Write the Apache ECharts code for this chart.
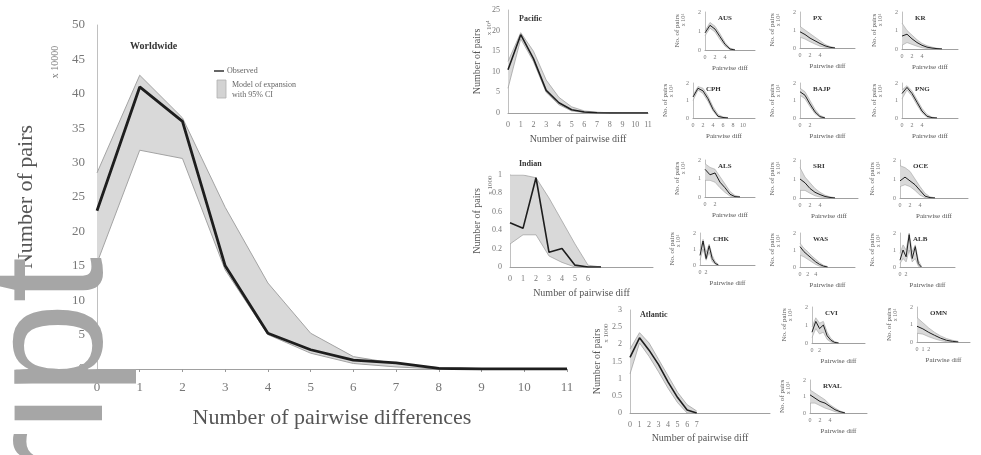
<!DOCTYPE html>
<html>
<head>
<meta charset="utf-8">
<script src="https://cdn.jsdelivr.net/npm/echarts@6/dist/echarts.min.js"></script>
<style>
  html, body { margin: 0; padding: 0; background: #fff; }
  #chart { width: 981px; height: 455px; }
</style>
</head>
<body>
<div id="chart"></div>
<script>
// number of pairwise differences for the big panel
const worldTicks = [0, 1, 2, 3, 4, 5, 6, 7, 8, 9, 10, 11];
// Worldwide (x 10000 pairs)
const worldObs = [23, 41, 36, 15, 5.2, 2.8, 1.3, 0.9, 0.1, 0, 0, 0];
const worldHi = [28.5, 42.7, 36.5, 23.5, 12.5, 5.2, 1.8, 0.8, 0.2, 0.05, 0, 0];
const worldLo = [15.4, 31.8, 30.6, 14.4, 5.0, 2.3, 0.8, 0.3, 0, 0, 0, 0];

// ocean basins
const pacObs = [10.5, 19, 13.2, 5.5, 2.5, 0.8, 0.25, 0.05, 0, 0, 0, 0];
const pacHi = [12.5, 19.5, 15, 8, 3.8, 1.5, 0.5, 0.2, 0.05, 0, 0, 0];
const pacLo = [6, 18, 12.5, 5, 2, 0.5, 0.1, 0, 0, 0, 0, 0];

const indObs = [0.48, 0.42, 0.97, 0.16, 0.2, 0.02, 0, 0];
const indHi = [1.0, 1.0, 0.97, 0.75, 0.5, 0.25, 0.02, 0];
const indLo = [0.25, 0.35, 0.35, 0.12, 0.05, 0, 0, 0];

const atlObs = [1.62, 2.19, 1.83, 1.41, 0.9, 0.45, 0.09, 0];
const atlHi = [1.86, 2.34, 2.04, 1.56, 1.08, 0.6, 0.24, 0.06];
const atlLo = [1.14, 2.04, 1.65, 1.2, 0.72, 0.3, 0, 0];

// small population panels (x 10^4 pairs)
const ausObs = [0.9, 1.3, 1.1, 0.7, 0.3, 0.05, 0];
const ausHi = [1.0, 1.45, 1.25, 0.85, 0.4, 0.1, 0.02];
const ausLo = [0.75, 1.15, 0.95, 0.55, 0.2, 0.02, 0];

const pxObs = [0.9, 0.75, 0.55, 0.4, 0.25, 0.12, 0.04, 0];
const pxHi = [1.2, 1.0, 0.8, 0.6, 0.4, 0.2, 0.08, 0.02];
const pxLo = [0.6, 0.5, 0.35, 0.22, 0.1, 0.04, 0, 0];

const krObs = [0.7, 0.8, 0.55, 0.35, 0.2, 0.1, 0.05, 0.02, 0];
const krHi = [1.4, 1.0, 0.75, 0.5, 0.3, 0.18, 0.1, 0.04, 0.01];
const krLo = [0.2, 0.35, 0.25, 0.15, 0.07, 0.03, 0.01, 0, 0];

const cphObs = [1.2, 1.7, 1.55, 1.1, 0.5, 0.1, 0.03, 0];
const cphHi = [1.3, 1.8, 1.7, 1.25, 0.65, 0.2, 0.06, 0.02];
const cphLo = [1.0, 1.6, 1.4, 0.95, 0.4, 0.06, 0.01, 0];

const bajObs = [1.5, 1.3, 0.8, 0.35, 0.08, 0];
const bajHi = [1.7, 1.5, 1.0, 0.5, 0.15, 0.03];
const bajLo = [1.3, 1.1, 0.65, 0.25, 0.04, 0];

const pngObs = [1.4, 1.75, 1.4, 0.9, 0.4, 0.1, 0.02, 0];
const pngHi = [1.6, 1.85, 1.55, 1.05, 0.55, 0.2, 0.05, 0];
const pngLo = [1.1, 1.6, 1.25, 0.75, 0.3, 0.05, 0, 0];

const alsObs = [1.5, 1.2, 1.3, 0.8, 0.5, 0.15, 0.02, 0];
const alsHi = [1.8, 1.6, 1.5, 1.1, 0.7, 0.3, 0.08, 0.02];
const alsLo = [0.9, 0.9, 0.8, 0.5, 0.25, 0.05, 0, 0];

const sriObs = [1.0, 0.8, 0.5, 0.3, 0.18, 0.08, 0.03, 0];
const sriHi = [1.6, 1.1, 0.8, 0.5, 0.3, 0.15, 0.06, 0.02];
const sriLo = [0.4, 0.4, 0.25, 0.12, 0.05, 0.02, 0, 0];

const oceObs = [0.9, 1.1, 0.9, 0.7, 0.4, 0.1, 0.02, 0];
const oceHi = [1.7, 1.6, 1.4, 1.0, 0.6, 0.25, 0.06, 0.01];
const oceLo = [0.6, 0.7, 0.6, 0.4, 0.15, 0.02, 0, 0];

const chkObs = [0.6, 1.5, 0.4, 1.2, 0.4, 0.1, 0];
const chkHi = [0.9, 1.6, 0.8, 1.3, 0.6, 0.2, 0.05];
const chkLo = [0.3, 1.0, 0.3, 0.8, 0.2, 0.05, 0];

const wasObs = [1.2, 0.9, 0.7, 0.5, 0.3, 0.15, 0.05, 0];
const wasHi = [1.4, 1.1, 0.9, 0.65, 0.45, 0.25, 0.1, 0.03];
const wasLo = [0.7, 0.6, 0.45, 0.3, 0.15, 0.05, 0.01, 0];

const albObs = [0.4, 1.0, 0.6, 1.9, 0.5, 1.2, 0.2, 0];
const albHi = [0.8, 1.3, 1.0, 2.0, 0.9, 1.3, 0.4, 0.05];
const albLo = [0.2, 0.5, 0.3, 1.0, 0.3, 0.5, 0.05, 0];

const cviObs = [0.6, 1.2, 0.8, 1.0, 0.4, 0.15, 0.03, 0];
const cviHi = [0.9, 1.4, 1.1, 1.2, 0.6, 0.25, 0.08, 0.01];
const cviLo = [0.3, 0.8, 0.5, 0.6, 0.2, 0.05, 0, 0];

const omnObs = [0.9, 0.75, 0.55, 0.38, 0.22, 0.1, 0.04, 0];
const omnHi = [1.4, 1.1, 0.8, 0.55, 0.35, 0.2, 0.1, 0.04];
const omnLo = [0.5, 0.45, 0.3, 0.18, 0.08, 0.02, 0, 0];

const rvaObs = [1.1, 0.9, 0.7, 0.6, 0.4, 0.2, 0.08, 0];
const rvaHi = [1.4, 1.2, 1.0, 0.8, 0.5, 0.3, 0.12, 0.03];
const rvaLo = [0.6, 0.6, 0.45, 0.3, 0.2, 0.08, 0.02, 0];

const serif = 'Liberation Serif';
const bandFill = '#d9d9d9';
const bandEdge = '#a3a3a3';

const grids = [], xAxes = [], yAxes = [], series = [], titles = [], graphics = [];

function pairs(arr) {
  return arr.map((v, i) => [i, v]);
}

function addPanel(p) {
  const g = grids.length;
  grids.push({ left: p.box[0], top: p.box[1], width: p.box[2], height: p.box[3] });
  xAxes.push({
    gridIndex: g, type: 'value', min: 0, max: p.xMax, interval: 1,
    axisLine: { show: true, lineStyle: { color: '#a0a0a0', width: 1 } },
    axisTick: { show: !!p.ticks, inside: false, length: 3, lineStyle: { color: '#999' } },
    splitLine: { show: false },
    axisLabel: {
      fontFamily: serif, fontSize: p.fs, color: '#777', margin: p.lm,
      formatter: v => (p.xLabels.indexOf(v) >= 0 ? String(v) : '')
    },
    name: p.xName, nameLocation: 'middle', nameGap: p.xGap,
    nameTextStyle: { fontFamily: serif, fontSize: p.nfs, color: '#555' }
  });
  yAxes.push({
    gridIndex: g, type: 'value', min: 0, max: p.yMax, interval: p.yInt,
    axisLine: { show: true, lineStyle: { color: '#c0c0c0', width: 1 } },
    axisTick: { show: false },
    splitLine: { show: false },
    axisLabel: { fontFamily: serif, fontSize: p.fs, color: '#777', margin: p.lm },
    name: p.yName, nameLocation: 'middle', nameGap: p.yGap,
    nameTextStyle: { fontFamily: serif, fontSize: p.nfs, color: '#555' }
  });
  // confidence band as one polygon: upper edge forward, lower edge back
  series.push(
    { type: 'custom', xAxisIndex: g, yAxisIndex: g, silent: true, z: 1,
      data: p.hi.map((v, i) => [i, p.lo[i], v]),
      encode: { x: 0, y: [1, 2] },
      renderItem: (params, api) => {
        if (params.dataIndex !== 0) return;
        const pts = [];
        for (let i = 0; i < p.hi.length; i++) pts.push(api.coord([i, p.hi[i]]));
        for (let i = p.lo.length - 1; i >= 0; i--) pts.push(api.coord([i, p.lo[i]]));
        return { type: 'polygon', shape: { points: pts }, style: { fill: bandFill } };
      } },
    { type: 'line', xAxisIndex: g, yAxisIndex: g, data: pairs(p.hi), symbol: 'none',
      lineStyle: { color: bandEdge, width: p.ew }, silent: true, z: 2 },
    { type: 'line', xAxisIndex: g, yAxisIndex: g, data: pairs(p.lo), symbol: 'none',
      lineStyle: { color: bandEdge, width: p.ew }, silent: true, z: 2 },
    { type: 'line', xAxisIndex: g, yAxisIndex: g, data: pairs(p.obs), symbol: 'none',
      lineStyle: { color: '#1e1e1e', width: p.ow }, silent: true, z: 3 }
  );
  titles.push({
    text: p.title, left: p.tPos[0], top: p.tPos[1],
    textStyle: { fontFamily: serif, fontSize: p.tfs, fontWeight: 'bold', color: '#333' }
  });
  if (p.unit) {
    graphics.push({
      type: 'text', x: p.unit[0], y: p.unit[1], rotation: Math.PI / 2,
      style: { text: p.unit[2], font: p.unit[3] + 'px "Liberation Serif"', fill: '#777',
        align: 'center', verticalAlign: 'middle' }
    });
  }
}

// big Worldwide panel
addPanel({
  title: 'Worldwide', tPos: [125, 36], tfs: 10,
  box: [97, 25, 470, 344], xMax: 11, xLabels: worldTicks, ticks: true,
  yMax: 50, yInt: 5, fs: 13, lm: 12, nfs: 22,
  xName: 'Number of pairwise differences', xGap: 38,
  yName: 'Number of pairs', yGap: 60,
  obs: worldObs, hi: worldHi, lo: worldLo, ow: 2.8, ew: 1,
  unit: [55, 62, 'x 10000', 10]
});

// ocean panels
addPanel({
  title: 'Pacific', tPos: [514, 10], tfs: 8,
  box: [508, 10, 140, 103], xMax: 11, xLabels: worldTicks,
  yMax: 25, yInt: 5, fs: 8, lm: 8, nfs: 10,
  xName: 'Number of pairwise diff', xGap: 21, yName: 'Number of pairs', yGap: 26,
  obs: pacObs, hi: pacHi, lo: pacLo, ow: 1.6, ew: 0.8,
  unit: [489, 28, 'x 10⁴', 7]
});
addPanel({
  title: 'Indian', tPos: [514, 155], tfs: 8,
  box: [510, 175, 143, 92], xMax: 11, xLabels: [0, 1, 2, 3, 4, 5, 6],
  yMax: 1, yInt: 0.2, fs: 8, lm: 8, nfs: 10,
  xName: 'Number of pairwise diff', xGap: 21, yName: 'Number of pairs', yGap: 28,
  obs: indObs, hi: indHi, lo: indLo, ow: 1.6, ew: 0.8,
  unit: [490, 185, 'x 1000', 7]
});
addPanel({
  title: 'Atlantic', tPos: [635, 306], tfs: 8,
  box: [630, 310, 140, 103], xMax: 14.7, xLabels: [0, 1, 2, 3, 4, 5, 6, 7],
  yMax: 3, yInt: 0.5, fs: 8, lm: 8, nfs: 10,
  xName: 'Number of pairwise diff', xGap: 20, yName: 'Number of pairs', yGap: 28,
  obs: atlObs, hi: atlHi, lo: atlLo, ow: 1.6, ew: 0.8,
  unit: [606, 333, 'x 1000', 7]
});

// small population panels
const small = [
  ['AUS', [705, 12, 50, 38], 10, [0, 2, 4], ausObs, ausHi, ausLo],
  ['PX', [800, 12, 55, 36], 11, [0, 2, 4], pxObs, pxHi, pxLo],
  ['KR', [902, 12, 56, 37], 11.2, [0, 2, 4], krObs, krHi, krLo],
  ['CPH', [693, 83, 62, 35], 12.4, [0, 2, 4, 6, 8, 10], cphObs, cphHi, cphLo],
  ['BAJP', [800, 83, 55, 35], 11, [0, 2], bajObs, bajHi, bajLo],
  ['PNG', [902, 83, 56, 35], 11.2, [0, 2, 4], pngObs, pngHi, pngLo],
  ['ALS', [705, 160, 50, 37], 10, [0, 2], alsObs, alsHi, alsLo],
  ['SRI', [800, 160, 58, 38], 11.6, [0, 2, 4], sriObs, sriHi, sriLo],
  ['OCE', [900, 160, 68, 38], 13.6, [0, 2, 4], oceObs, oceHi, oceLo],
  ['CHK', [700, 233, 55, 32], 18, [0, 2], chkObs, chkHi, chkLo],
  ['WAS', [800, 233, 55, 34], 14, [0, 2, 4], wasObs, wasHi, wasLo],
  ['ALB', [900, 233, 55, 34], 18, [0, 2], albObs, albHi, albLo],
  ['CVI', [812, 307, 53, 36], 14, [0, 2], cviObs, cviHi, cviLo],
  ['OMN', [917, 307, 53, 35], 9, [0, 1, 2], omnObs, omnHi, omnLo],
  ['RVAL', [810, 380, 57, 33], 11.4, [0, 2, 4], rvaObs, rvaHi, rvaLo]
];
small.forEach(s => {
  const b = s[1];
  addPanel({
    title: s[0], tPos: [b[0] + 8, b[1] - 2], tfs: 7,
    box: b, xMax: s[2], xLabels: s[3],
    yMax: 2, yInt: 1, fs: 6, lm: 4, nfs: 7,
    xName: 'Pairwise diff', xGap: 15, yName: 'No. of pairs', yGap: 24,
    obs: s[4], hi: s[5], lo: s[6], ow: 1, ew: 0.6,
    unit: [b[0] - 22, b[1] + 8, 'x 10⁴', 6]
  });
});

// legend of the big panel
graphics.push(
  { type: 'line', shape: { x1: 214, y1: 71, x2: 224, y2: 71 }, style: { stroke: '#333', lineWidth: 1.5 } },
  { type: 'text', x: 227, y: 71, style: { text: 'Observed', font: '8px "Liberation Serif"', fill: '#666', verticalAlign: 'middle' } },
  { type: 'rect', shape: { x: 217, y: 80, width: 9, height: 18 }, style: { fill: '#d3d3d3', stroke: '#b0b0b0', lineWidth: 0.8 } },
  { type: 'text', x: 232, y: 85, style: { text: 'Model of expansion', font: '8px "Liberation Serif"', fill: '#666', verticalAlign: 'middle' } },
  { type: 'text', x: 232, y: 95, style: { text: 'with 95% CI', font: '8px "Liberation Serif"', fill: '#666', verticalAlign: 'middle' } }
);

// manuscript watermark along the left edge
graphics.push({
  type: 'text', x: 139, y: 257, rotation: Math.PI / 2, z: 100,
  style: { text: 'ript', font: '165px "Liberation Sans"', fill: '#a6a6a6', align: 'right', verticalAlign: 'bottom' }
});

const chart = echarts.init(document.getElementById('chart'), null, { renderer: 'canvas' });
chart.setOption({
  backgroundColor: '#ffffff',
  animation: false,
  title: titles,
  grid: grids,
  xAxis: xAxes,
  yAxis: yAxes,
  series: series,
  graphic: graphics
});
</script>
</body>
</html>
